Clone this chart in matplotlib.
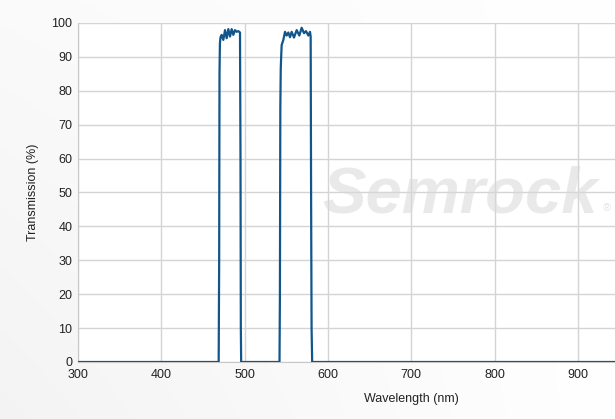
import numpy as np
import matplotlib
matplotlib.use("Agg")
import matplotlib.pyplot as plt

plt.rcParams['font.family'] = ['Liberation Sans', 'DejaVu Sans']

# Data: wavelength (nm) and transmission (%)
wavelength = [300, 468.8, 469.4, 469.8, 470.3, 471.0, 472.4, 474.4, 476.4, 478.4, 480.4,
              482.4, 484.4, 486.4, 488.4, 490.4, 492.4, 494.4, 495.0, 495.4, 495.8,
              541.8, 542.3, 542.8, 543.3, 543.8, 544.4, 546.4, 548.4, 550.4, 552.4,
              554.4, 556.4, 559.2, 562.4, 565.6, 568.4, 571.2, 573.6, 576.4, 578.4,
              579.2, 579.7, 580.3, 581.0, 950]
transmission = [0, 0, 30, 85, 94, 95.8, 96.5, 95.0, 97.9, 95.5, 98.2,
                96.0, 98.2, 96.5, 97.9, 97.4, 97.6, 97.2, 60, 10, 0,
                0, 20, 75, 86.5, 90, 93.5, 95.0, 97.4, 96.3, 97.2,
                95.8, 97.4, 95.7, 97.9, 96.3, 98.6, 97.0, 97.6, 96.3, 97.4,
                96.0, 50, 10, 0, 0]

xticks = [300, 400, 500, 600, 700, 800, 900]
yticks = list(range(0, 101, 10))

fig = plt.figure(figsize=(6.15, 4.19), dpi=100)

# subtle background gradient
bg = fig.add_axes([0, 0, 1, 1], zorder=-10)
gx = np.linspace(0, 1, 200)
gy = np.linspace(0, 1, 200)
GX, GY = np.meshgrid(gx, gy)
shade = 1.0 - 0.045 * (1 - GX) * (0.4 + 0.6 * GY)
bg.imshow(np.dstack([shade, shade, shade]), extent=[0, 1, 0, 1], aspect='auto', origin='upper')
bg.set_axis_off()

W, H = 615, 419
left, right, top, bottom = 78, 615, 23, 362
ax = fig.add_axes([left / W, 1 - bottom / H, (right - left) / W, (bottom - top) / H])
ax.set_facecolor('white')

ax.plot(wavelength, transmission, color='#11558a', lw=1.6, solid_joinstyle='round', zorder=3)

ax.set_xlim(300, 300 + (right - left) / (500 / 600))
ax.set_ylim(0, 100)
ax.set_xticks(xticks)
ax.set_yticks(yticks)
ax.grid(True, color='#d4d4d4', lw=1.0)
ax.set_axisbelow(True)
for s in ['top', 'right']:
    ax.spines[s].set_visible(False)
ax.spines['left'].set_color('#c8c8c8')
ax.spines['bottom'].set_color('#c8c8c8')
ax.tick_params(length=0, labelsize=9, colors='#222222', pad=5)
ax.tick_params(axis='y', pad=4)

ax.set_xlabel('Wavelength (nm)', fontsize=9, color='#222222')
ax.xaxis.set_label_coords(0.62, -0.09)
ax.set_ylabel('Transmission (%)', fontsize=9, color='#222222')
ax.yaxis.set_label_coords(-0.073, 0.5)

# watermark
ax.text(0.712, 0.49, 'Semrock', transform=ax.transAxes, fontsize=47, fontweight='bold',
        style='italic', color='#d8d8d8', alpha=0.55, ha='center', va='center', zorder=1,
        clip_on=True)
ax.text(0.985, 0.455, '®', transform=ax.transAxes, fontsize=8,
        color='#d8d8d8', alpha=0.7, ha='center', va='center', zorder=1)

fig.savefig('out.png', dpi=100)
